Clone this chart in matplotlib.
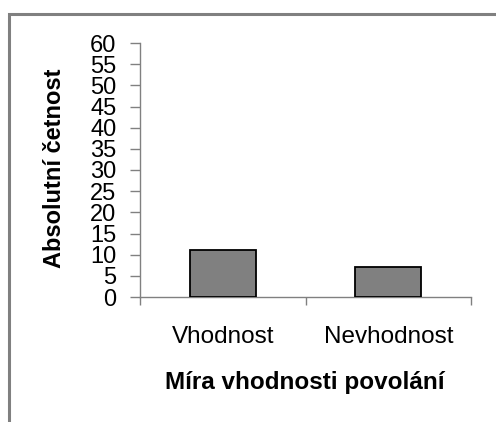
import matplotlib
matplotlib.use("Agg")
import matplotlib.pyplot as plt
from matplotlib.lines import Line2D

categories = ["Vhodnost", "Nevhodnost"]
values = [11, 7]
yticks = list(range(0, 61, 5))
ylabel = "Absolutní četnost"
xlabel = "Míra vhodnosti povolání"

plt.rcParams['font.family'] = ['Liberation Sans', 'DejaVu Sans']

fig = plt.figure(figsize=(4.96, 4.22), dpi=100)
ax = fig.add_axes([140/496, 1-297/422, 331/496, 254/422])

x = list(range(len(categories)))
ax.bar(x, values, width=0.4, color='#808080', edgecolor='black', linewidth=1.3, zorder=3)
ax.set_xlim(-0.5, len(categories) - 0.5)
ax.set_ylim(0, 60)
ax.set_yticks(yticks)
ax.set_yticklabels([str(t) for t in yticks], fontsize=17)
ax.set_xticks(x)
ax.set_xticklabels(categories, fontsize=17.5)
ax.set_xticks([i - 0.5 for i in range(len(categories) + 1)], minor=True)
ax.tick_params(axis='x', which='major', length=0, pad=21)
ax.tick_params(axis='x', which='minor', length=6, color='#808080', width=1)
ax.tick_params(axis='y', length=7, color='#808080', width=1, pad=10)

for s in ['top', 'right']:
    ax.spines[s].set_visible(False)
for s in ['left', 'bottom']:
    ax.spines[s].set_color('#808080')
    ax.spines[s].set_linewidth(1)

fig.text(55/496, 1-168/422, ylabel, rotation=90, ha='center', va='center',
         fontsize=17, fontweight='bold')
fig.text(305/496, 1-382/422, xlabel, ha='center', va='center',
         fontsize=17.5, fontweight='bold')

bx = 8.5/496
by = 1 - 14/422
fig.add_artist(Line2D([bx, bx, 1.0], [0.0, by, by], transform=fig.transFigure,
                      color='#808080', linewidth=2.2, solid_joinstyle='miter'))

fig.savefig('out.png', dpi=100)
